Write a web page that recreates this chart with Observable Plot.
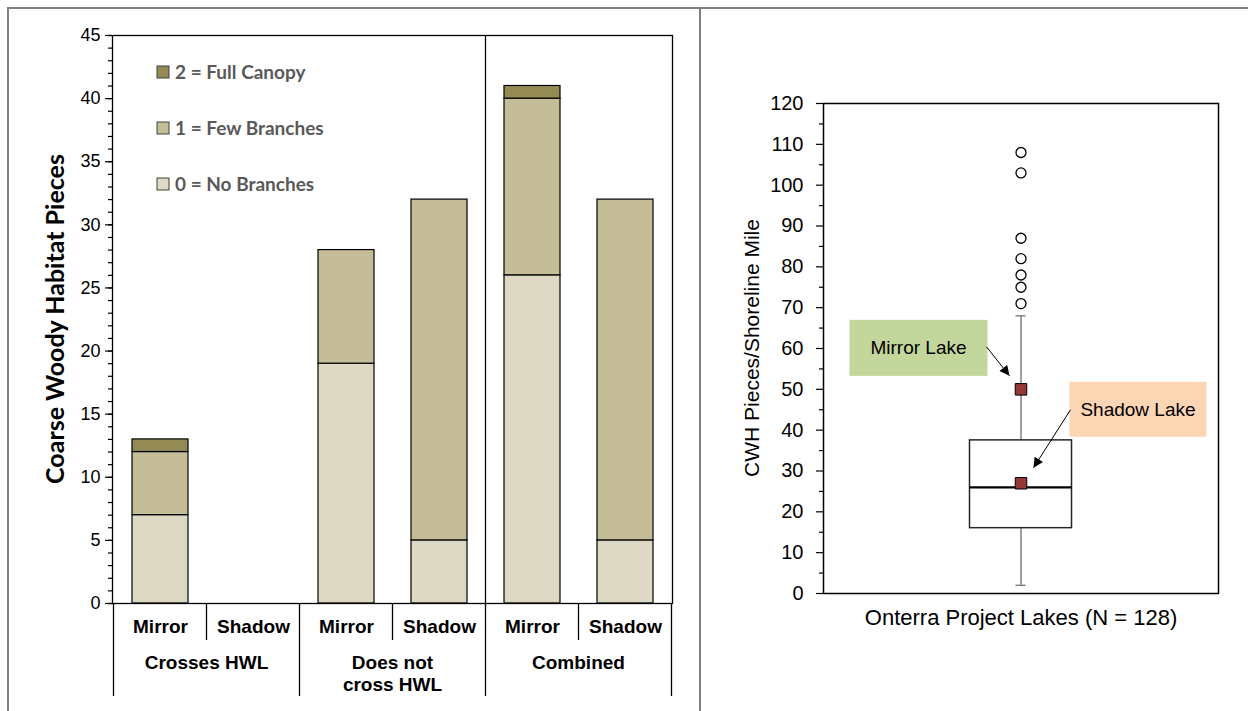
<!DOCTYPE html>
<html><head><meta charset="utf-8">
<script src="https://cdn.jsdelivr.net/npm/d3@7"></script>
<script src="https://cdn.jsdelivr.net/npm/@observablehq/plot@0.6"></script>
<style>
body{margin:0;background:#fff;}
#wrap{position:relative;width:1248px;height:711px;overflow:hidden;background:#fff;}
#left,#right{position:absolute;top:0;}
#left{left:0;} #right{left:700px;}
.grid{position:absolute;background:#808080;}
</style></head><body>
<div id="wrap">
 <div id="left"></div><div id="right"></div>
 <div class="grid" style="left:7px;top:7px;width:1241px;height:2px"></div>
 <div class="grid" style="left:7px;top:7px;width:2px;height:704px"></div>
 <div class="grid" style="left:699px;top:7px;width:2px;height:704px"></div>
</div>
<script>
// ---------- Left chart data ----------
const groups = ["Crosses HWL", "Does not\ncross HWL", "Combined"];
const lakes = ["Mirror", "Shadow"];
const levels = ["0 = No Branches", "1 = Few Branches", "2 = Full Canopy"];
const levelColors = ["#ddd9c4", "#c4bd97", "#948a54"];
// values per bar, order: Crosses(Mirror, Shadow), Does not cross(Mirror, Shadow), Combined(Mirror, Shadow)
const noBranches  = [7, 0, 19, 5, 26, 5];
const fewBranches = [5, 0, 9, 27, 14, 27];
const fullCanopy  = [1, 0, 0, 0, 1, 0];
const yTicksLeft = [0, 5, 10, 15, 20, 25, 30, 35, 40, 45];
const yTitleLeft = "Coarse Woody Habitat Pieces";

// ---------- Right chart data ----------
const boxCategory = "Onterra Project Lakes (N = 128)";
const whiskerLow = 2, q1 = 16, median = 26, q3 = 37.5, whiskerHigh = 68;
const outliers = [71, 75, 78, 82, 87, 103, 108];
const lakeNames = ["Mirror Lake", "Shadow Lake"];
const lakeValues = [50, 27];
const yTicksRight = [0, 10, 20, 30, 40, 50, 60, 70, 80, 90, 100, 110, 120];
const yTitleRight = "CWH Pieces/Shoreline Mile";

const FONT = "Arial, 'Liberation Sans', sans-serif";
const BOLDFONT = "Lato, 'Open Sans', sans-serif";

// ---------- Left chart ----------
const keys = [];
groups.forEach(g => lakes.forEach(l => keys.push(g + " | " + l)));
const series = [noBranches, fewBranches, fullCanopy];
const rows = [];
keys.forEach((k, i) => levels.forEach((lev, j) => {
  const v = series[j][i];
  if (v > 0) rows.push({key: k, level: lev, value: v});
}));

const minorLeft = d3.range(0, 46, 1);
const left = Plot.plot({
  width: 700, height: 711,
  marginLeft: 112, marginRight: 28, marginTop: 35, marginBottom: 108,
  style: {fontFamily: FONT, fontSize: "18px", color: "black", background: "transparent", overflow: "visible"},
  x: {type: "band", domain: keys, paddingInner: 0.4, paddingOuter: 0.2, axis: null},
  y: {domain: [0, 45], axis: null},
  color: {domain: levels, range: levelColors},
  marks: [
    Plot.barY(rows, {x: "key", y: "value", fill: "level", stroke: "black", strokeWidth: 1.2}),
    Plot.axisY({ticks: minorLeft, tickSize: 4, fill: "none", strokeWidth: 1.2}),
    Plot.axisY({ticks: yTicksLeft, tickSize: 7, tickPadding: 5, label: null, strokeWidth: 1.2, fontSize: 18}),
    Plot.frame({stroke: "black", strokeWidth: 1.3}),
    Plot.text(keys, {x: d => d, text: d => d.split(" | ")[1], frameAnchor: "bottom", dy: 29, fontWeight: "bold", fontSize: 19})
  ]
});
document.getElementById("left").appendChild(left);

{
  const svg = d3.select(left);
  const xs = left.scale("x"), ys = left.scale("y");
  const base = ys.apply(0), top = ys.apply(45);
  const gap = (xs.step - xs.bandwidth) / 2;
  const boundary = i => i < keys.length ? xs.apply(keys[i]) - gap : xs.apply(keys[keys.length - 1]) + xs.bandwidth + gap;
  const g = svg.append("g").attr("stroke", "black").attr("stroke-width", 1.3);
  for (let b = 0; b <= keys.length; b++) {
    const x = boundary(b);
    g.append("line").attr("x1", x).attr("x2", x).attr("y1", base).attr("y2", base + (b % 2 === 0 ? 93 : 37));
  }
  // divider between "Does not cross HWL" and "Combined"
  const xd = boundary(4);
  g.append("line").attr("x1", xd).attr("x2", xd).attr("y1", top).attr("y2", base);
  // group labels
  groups.forEach((grp, gi) => {
    const cx = (boundary(2 * gi) + boundary(2 * gi + 2)) / 2;
    grp.split("\n").forEach((line, li) => {
      svg.append("text").attr("x", cx).attr("y", base + 59 + li * 22).attr("dy", "0.35em")
        .attr("text-anchor", "middle").attr("font-family", FONT).attr("font-weight", "bold")
        .attr("font-size", 19).attr("fill", "black").text(line);
    });
  });
  // legend
  const legendY = [184, 128, 72];
  levels.forEach((lev, j) => {
    svg.append("rect").attr("x", 157).attr("y", legendY[j] - 6).attr("width", 12).attr("height", 12)
      .attr("fill", levelColors[j]).attr("stroke", "#404040").attr("stroke-width", 1);
    svg.append("text").attr("x", 175).attr("y", legendY[j]).attr("dy", "0.35em")
      .attr("text-anchor", "start")
      .attr("font-family", BOLDFONT).attr("font-weight", "bold").attr("font-size", 19)
      .attr("fill", "#595959").text(lev);
  });
  // y title
  svg.append("text").attr("transform", `translate(55,${(top + base) / 2}) rotate(-90)`)
    .attr("text-anchor", "middle").attr("dy", "0.35em")
    .attr("font-family", BOLDFONT).attr("font-weight", "bold").attr("font-size", 25)
    .attr("fill", "black").text(yTitleLeft);
}

// ---------- Right chart ----------
const cat = () => boxCategory;
const minorRight = d3.range(5, 120, 10);
const right = Plot.plot({
  width: 548, height: 711,
  marginLeft: 123, marginRight: 30, marginTop: 103, marginBottom: 118,
  style: {fontFamily: FONT, fontSize: "20px", color: "black", background: "transparent", overflow: "visible"},
  x: {type: "band", domain: [boxCategory], padding: 0, axis: null},
  y: {domain: [0, 120], axis: null},
  marks: [
    Plot.ruleX([boxCategory], {x: cat, y1: whiskerLow, y2: whiskerHigh, stroke: "#808080", strokeWidth: 1.5}),
    Plot.tickY([whiskerLow, whiskerHigh], {x: cat, y: d => d, stroke: "#808080", strokeWidth: 1.5, insetLeft: 192.5, insetRight: 192.5}),
    Plot.rectY([boxCategory], {x: cat, y1: q1, y2: q3, fill: "white", stroke: "#262626", strokeWidth: 1.5, insetLeft: 146.5, insetRight: 146.5}),
    Plot.tickY([median], {x: cat, y: d => d, stroke: "black", strokeWidth: 2.2, insetLeft: 146.5, insetRight: 146.5}),
    Plot.dot(outliers, {x: cat, y: d => d, r: 5, fill: "white", stroke: "black", strokeWidth: 1.3}),
    Plot.dot(lakeValues, {x: cat, y: d => d, symbol: "square", r: 6.5, fill: "#953735", stroke: "black", strokeWidth: 1}),
    Plot.frame({stroke: "black", strokeWidth: 1.5}),
    Plot.axisY({ticks: minorRight, tickSize: 4, fill: "none", strokeWidth: 1.2}),
    Plot.axisY({ticks: yTicksRight, tickSize: 7, tickPadding: 13, label: null, strokeWidth: 1.2, fontSize: 20}),
    Plot.axisX({tickSize: 0, tickPadding: 16, label: null, fontSize: 22})
  ]
});
document.getElementById("right").appendChild(right);

{
  const svg = d3.select(right);
  const xs = right.scale("x"), ys = right.scale("y");
  const cx = xs.apply(boxCategory) + xs.bandwidth / 2;
  const top = ys.apply(120), base = ys.apply(0);
  // y title
  svg.append("text").attr("transform", `translate(52,${(top + base) / 2}) rotate(-90)`)
    .attr("text-anchor", "middle").attr("dy", "0.35em")
    .attr("font-family", FONT).attr("font-size", 21).attr("fill", "black").text(yTitleRight);
  const defs = svg.append("defs");
  defs.append("marker").attr("id", "ah").attr("viewBox", "0 0 10 10").attr("refX", 10).attr("refY", 5)
    .attr("markerWidth", 12).attr("markerHeight", 10).attr("markerUnits", "userSpaceOnUse").attr("orient", "auto")
    .append("path").attr("d", "M0,0 L10,5 L0,10 Z").attr("fill", "black");
  const ann = [
    {box: [-171, -69, 138, 56], fill: "#c3d69b", from: [-34, -42], to: [-11, -13]},
    {box: [49, -101, 137, 55], fill: "#fcd5b5", from: [50, -73], to: [13, -15]}
  ];
  lakeNames.forEach((name, i) => {
    const py = ys.apply(lakeValues[i]);
    const a = ann[i];
    svg.append("rect").attr("x", cx + a.box[0]).attr("y", py + a.box[1]).attr("width", a.box[2]).attr("height", a.box[3]).attr("fill", a.fill);
    svg.append("text").attr("x", cx + a.box[0] + a.box[2] / 2).attr("y", py + a.box[1] + a.box[3] / 2).attr("dy", "0.35em")
      .attr("text-anchor", "middle").attr("font-family", FONT).attr("font-size", 19).attr("fill", "black").text(name);
    svg.append("line").attr("x1", cx + a.from[0]).attr("y1", py + a.from[1]).attr("x2", cx + a.to[0]).attr("y2", py + a.to[1])
      .attr("stroke", "black").attr("stroke-width", 1).attr("marker-end", "url(#ah)");
  });
}
</script>
</body></html>
